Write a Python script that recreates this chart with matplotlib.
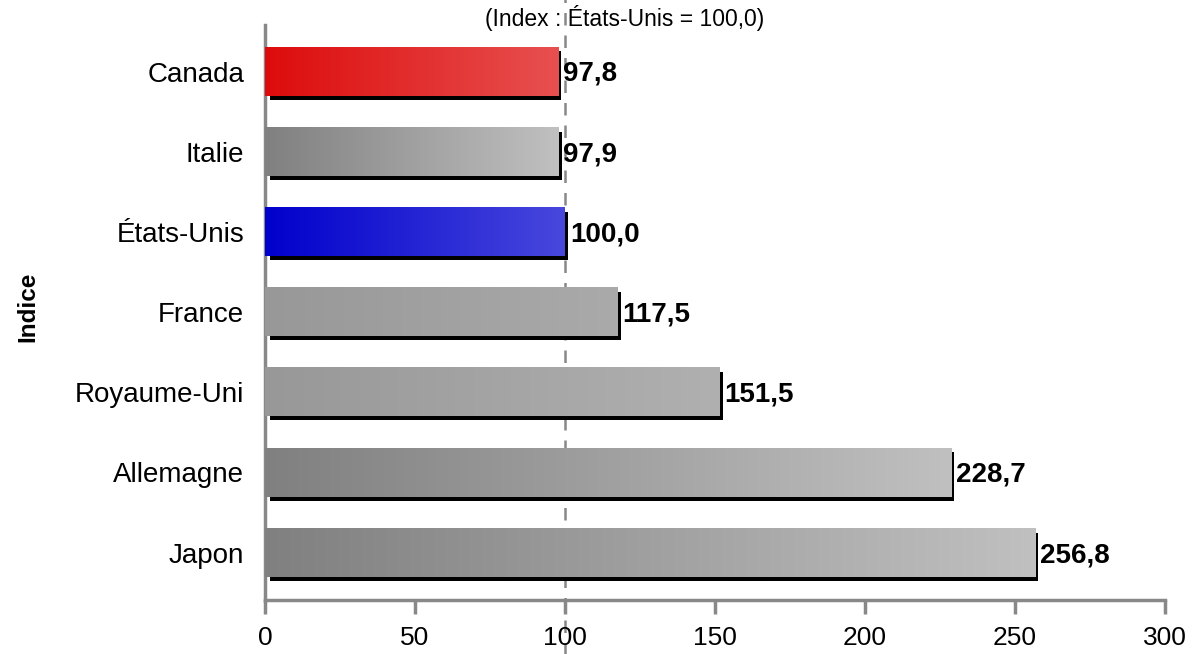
import numpy as np
import matplotlib
matplotlib.use("Agg")
import matplotlib.pyplot as plt
from matplotlib.colors import LinearSegmentedColormap
from matplotlib.patches import Rectangle
import matplotlib.transforms as mtransforms

plt.rcParams['font.family'] = ['Liberation Sans', 'DejaVu Sans']

countries = ["Japon", "Allemagne", "Royaume-Uni", "France", "États-Unis", "Italie", "Canada"]
values = [256.8, 228.7, 151.5, 117.5, 100.0, 97.9, 97.8]
labels = ["256,8", "228,7", "151,5", "117,5", "100,0", "97,9", "97,8"]
grad_left = ["#808080", "#808080", "#989898", "#989898", "#0000CC", "#808080", "#DD0C0C"]
grad_right = ["#C0C0C0", "#C0C0C0", "#B0B0B0", "#AAAAAA", "#4848DD", "#C0C0C0", "#E85050"]
xticks = [0, 50, 100, 150, 200, 250, 300]
title = "(Index : États-Unis = 100,0)"
ylabel = "Indice"

fig = plt.figure(figsize=(11.92, 6.54), dpi=100)
ax = fig.add_axes([265/1192, (654-600)/654, 900/1192, (600-25)/654])

h = 0.6
for i, (v, lab, cl, cr) in enumerate(zip(values, labels, grad_left, grad_right)):
    shadow_tr = mtransforms.offset_copy(ax.transData, fig=fig, x=3, y=-4, units='dots')
    ax.add_patch(Rectangle((0.7, i - h/2), v - 0.7, h, facecolor='black', edgecolor='none',
                           transform=shadow_tr, zorder=2))
    cmap = LinearSegmentedColormap.from_list(f"g{i}", [cl, cr])
    grad = np.linspace(0, 1, 256).reshape(1, -1)
    ax.imshow(grad, cmap=cmap, aspect='auto', extent=[0, v, i - h/2, i + h/2],
              interpolation='bicubic', zorder=3)
    ax.text(v + 1.6, i - 0.03, lab, ha='left', va='center', fontsize=20,
            fontweight='bold', color='black', zorder=5)

ax.set_xlim(0, 300)
ax.set_ylim(-0.59, 6.58)

ax.axvline(100, ymin=-0.2, ymax=1.1, color='#888888', linestyle=(0, (5, 4)), lw=1.8,
           clip_on=False, zorder=1)

ax.set_yticks(range(len(countries)))
ax.set_yticklabels(countries, fontsize=20)
ax.tick_params(axis='y', length=0, pad=15)
ax.set_xticks(xticks)
ax.set_xticklabels([str(t) for t in xticks], fontsize=19)
ax.tick_params(axis='x', length=10, width=2.5, color='#888888', direction='out', pad=8.5)

for s in ['top', 'right']:
    ax.spines[s].set_visible(False)
for s in ['left', 'bottom']:
    ax.spines[s].set_color('#888888')
    ax.spines[s].set_linewidth(2.5)

fig.text(28/1192, 1 - 307/654, ylabel, rotation=90, ha='center', va='center',
         fontsize=17.5, fontweight='bold')

fig.text(625/1192, 1 - 18/654, title, ha='center', va='center', fontsize=16.5)

fig.savefig("out.png", dpi=100)
